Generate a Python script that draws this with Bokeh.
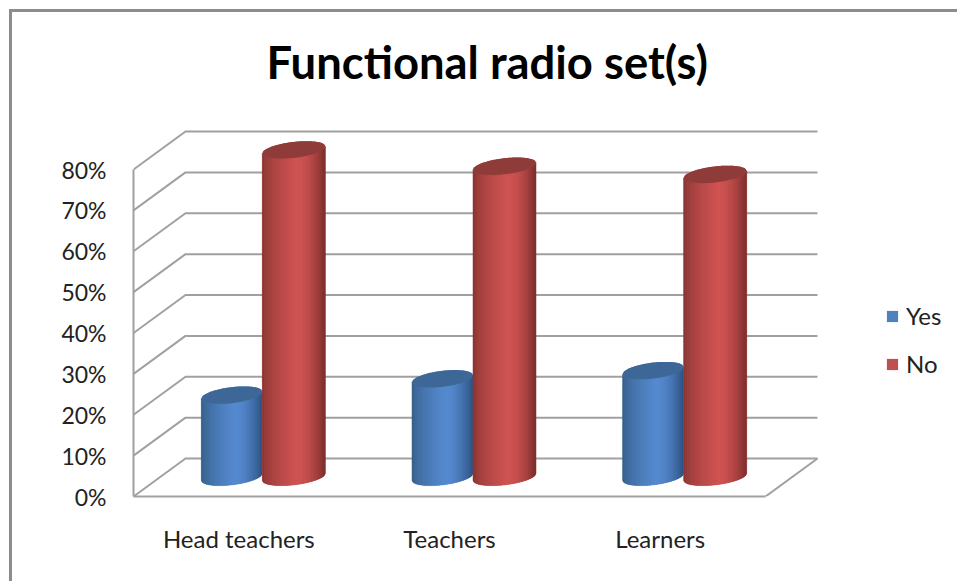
import numpy as np
from bokeh.plotting import figure
from bokeh.models import (Range1d, FixedTicker, Legend, LegendItem, InlineStyleSheet,
                          LinearAxis, NumeralTickFormatter)
from bokeh.embed import file_html
from bokeh.resources import INLINE

categories = ["Head teachers", "Teachers", "Learners"]
yes_values = [20, 24, 26]
no_values = [80, 76, 74]
y_ticks = [0, 10, 20, 30, 40, 50, 60, 70, 80]
title_text = "Functional radio set(s)"

BLUE = "#4f81bd"
RED = "#c0504d"
GRID = "#a0a0a0"
TEXT = "#222222"
FONT = "Lato"

W, H = 957, 581
PX_CAT = 210.67      # pixels per category
PX_PCT = 4.0875      # pixels per percent
LEFT, BOTTOM, TOP = 133, 85, 98
DX, DY = 52 / PX_CAT, 38 / PX_PCT   # 3D depth in data units

# chart-area border: only the left and top edges fall inside the window
border_css = InlineStyleSheet(css=""":host{position:relative}
:host::before{content:'';position:absolute;left:9px;top:9px;right:0;bottom:0;
border-left:3px solid #8c8c8c;border-top:3px solid #8c8c8c;pointer-events:none;z-index:10}""")

p = figure(width=W, height=H, output_backend="svg", toolbar_location=None,
           x_axis_type=None, y_axis_type=None,
           min_border_left=LEFT, min_border_right=0,
           min_border_bottom=BOTTOM, min_border_top=TOP,
           x_range=Range1d(0, (W - LEFT) / PX_CAT),
           y_range=Range1d(0, (H - BOTTOM - TOP) / PX_PCT),
           background_fill_color="white", border_fill_color="white",
           outline_line_color=None, stylesheets=[border_css])
p.grid.visible = False

p.title.text = title_text
p.title.text_font = FONT
p.title.text_font_size = "45.4px"
p.title.text_font_style = "bold"
p.title.text_color = "black"
p.title.align = "left"
p.title.offset = 133
p.title.standoff = 19

yaxis = LinearAxis(ticker=FixedTicker(ticks=y_ticks), bounds=(0, 80),
                   formatter=NumeralTickFormatter(format="0%"))
yaxis.major_label_overrides = {v: f"{v}%" for v in y_ticks}
yaxis.axis_line_color = GRID
yaxis.axis_line_width = 2
yaxis.major_tick_line_color = None
yaxis.minor_tick_line_color = None
yaxis.major_label_standoff = 21
yaxis.major_label_text_font = FONT
yaxis.major_label_text_font_size = "23px"
yaxis.major_label_text_color = TEXT
p.add_layout(yaxis, "left")

xpos = [i + 0.5 for i in range(len(categories))]
xaxis = LinearAxis(ticker=FixedTicker(ticks=xpos), bounds=(0, len(categories)))
xaxis.major_label_overrides = dict(zip(xpos, categories))
xaxis.axis_line_color = GRID
xaxis.axis_line_width = 2
xaxis.major_tick_line_color = None
xaxis.minor_tick_line_color = None
xaxis.major_label_standoff = 21
xaxis.major_label_text_font = FONT
xaxis.major_label_text_font_size = "24px"
xaxis.major_label_text_color = TEXT
p.add_layout(xaxis, "below")

# walls and floor
n = len(categories)
xs, ys = [], []
for v in y_ticks:
    xs.append([0, DX, n + DX])
    ys.append([v, v + DY, v + DY])
xs.append([n, n + DX])
ys.append([0, DY])
p.multi_line(xs, ys, line_color=GRID, line_width=2)


def mix(c1, c2, t):
    a = np.array([int(c1[i:i + 2], 16) for i in (1, 3, 5)], float)
    b = np.array([int(c2[i:i + 2], 16) for i in (1, 3, 5)], float)
    r = a + (b - a) * t
    return "#%02x%02x%02x" % tuple(int(round(q)) for q in r)


def shade(t, dark_l, bright, dark_r):
    if t < 0.55:
        return mix(dark_l, bright, (t / 0.55) ** 0.55)
    return mix(bright, dark_r, ((t - 0.55) / 0.45) ** 1.8)


def cylinder(cat_x, value, half_px, shift_px, base, pal, top_col):
    cx = cat_x + DX / 2 + shift_px / PX_CAT
    a = half_px / PX_CAT
    cy0 = DY / 2 + 0.15
    b = 8 / PX_PCT
    s = 3.5 / PX_PCT
    N = 32
    edges = np.linspace(-1, 1, N + 1)

    def front(u, y):           # front arc of the slanted ellipse
        return y + s * u - b * np.sqrt(np.clip(1 - u * u, 0, 1))

    def back(u, y):
        return y + s * u + b * np.sqrt(np.clip(1 - u * u, 0, 1))

    u = np.linspace(-1, 1, 61)
    sil_x = np.concatenate([cx + a * u, cx + a * u[::-1]])
    sil_y = np.concatenate([front(u, cy0), back(u[::-1], cy0 + value)])
    body = p.patches([sil_x.tolist()], [sil_y.tolist()], fill_color=base, line_color=None)

    sx, sy, cols = [], [], []
    for l, r in zip(edges[:-1], edges[1:]):
        uu = np.linspace(l, r, 4)
        sx.append((cx + a * np.concatenate([uu, uu[::-1]])).tolist())
        sy.append(np.concatenate([front(uu, cy0), front(uu[::-1], cy0 + value)]).tolist())
        cols.append(shade((l + r + 2) / 4, *pal))
    p.patches(sx, sy, fill_color=cols, line_color=cols, line_width=0.5)

    tu = np.linspace(-1, 1, 61)
    tx = np.concatenate([cx + a * tu, cx + a * tu[::-1]])
    ty = np.concatenate([front(tu, cy0 + value), back(tu[::-1], cy0 + value)])
    p.patches([tx.tolist()], [ty.tolist()], fill_color=top_col, line_color=None)
    return body


BLUE_PAL = ("#33597f", "#568ad0", "#2c5280")
RED_PAL = ("#7f3230", "#cf5452", "#7a2e2d")
yes_r = no_r = None
for x, y_v, n_v in zip(xpos, yes_values, no_values):
    yes_r = cylinder(x, y_v, 30.5, -33, BLUE, BLUE_PAL, "#3c6796")
    no_r = cylinder(x, n_v, 31.5, 29, RED, RED_PAL, "#8f3b39")

legend = Legend(items=[LegendItem(label="Yes", renderers=[yes_r]),
                       LegendItem(label="No", renderers=[no_r])],
                location=(752, 118), orientation="vertical",
                background_fill_alpha=0, border_line_color=None,
                glyph_width=14, glyph_height=14, spacing=19,
                label_text_font=FONT, label_text_font_size="24px",
                label_text_color=TEXT, label_standoff=7, margin=0, padding=0)
p.add_layout(legend, "center")

open("out.html", "w").write(file_html(p, INLINE))
